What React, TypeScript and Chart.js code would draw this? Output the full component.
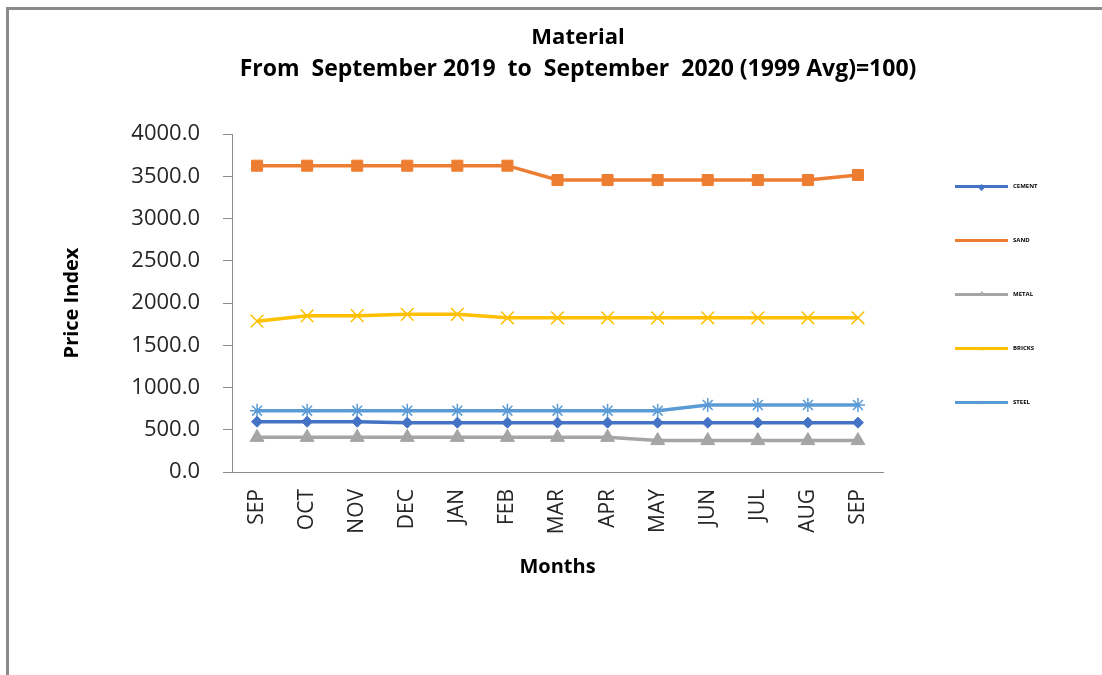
import React, { useEffect, useRef } from "react";
import { Chart, registerables } from "chart.js";

Chart.register(...registerables);

const months = ["SEP", "OCT", "NOV", "DEC", "JAN", "FEB", "MAR", "APR", "MAY", "JUN", "JUL", "AUG", "SEP"];
const cement = [595, 595, 595, 584, 584, 584, 584, 584, 584, 584, 584, 584, 584];
const sand = [3625, 3625, 3625, 3625, 3625, 3625, 3455, 3455, 3455, 3455, 3455, 3455, 3515];
const metal = [410, 410, 410, 410, 410, 410, 410, 410, 372, 372, 372, 372, 372];
const bricks = [1785, 1848, 1850, 1866, 1866, 1825, 1825, 1825, 1825, 1825, 1825, 1825, 1825];
const steel = [726, 726, 726, 726, 726, 726, 726, 726, 726, 793, 793, 793, 793];
const yTicks = [0, 500, 1000, 1500, 2000, 2500, 3000, 3500, 4000];
const seriesNames = ["CEMENT", "SAND", "METAL", "BRICKS", "STEEL"];
const seriesColors = ["#4472C4", "#ED7D31", "#A5A5A5", "#FFC000", "#5B9BD5"];
const titleLines = ["Material", "From  September 2019  to  September  2020 (1999 Avg)=100)"];
const xTitle = "Months";
const yTitle = "Price Index";

const FONT = "'Open Sans', 'DejaVu Sans', sans-serif";

export default function App() {
  const ref = useRef<HTMLCanvasElement>(null);

  useEffect(() => {
    if (!ref.current) return;
    const values = [cement, sand, metal, bricks, steel];
    const styles = [
      { pointStyle: "rectRot", pointRadius: 5.5, pw: 1 },
      { pointStyle: "rect", pointRadius: 7.8, pw: 1 },
      { pointStyle: "triangle", pointRadius: 8, pw: 1 },
      { pointStyle: "crossRot", pointRadius: 9, pw: 1.5 },
      { pointStyle: "star", pointRadius: 7, pw: 1.5 },
    ];
    const chart = new Chart(ref.current, {
      type: "line",
      data: {
        labels: months,
        datasets: seriesNames.map((name, i) => ({
          label: name,
          data: values[i],
          borderColor: seriesColors[i],
          backgroundColor: seriesColors[i],
          borderWidth: 3.5,
          tension: 0,
          pointStyle: styles[i].pointStyle as any,
          pointRadius: styles[i].pointRadius,
          pointBorderWidth: styles[i].pw,
          pointBackgroundColor: seriesColors[i],
          pointBorderColor: seriesColors[i],
        })),
      },
      options: {
        animation: false,
        responsive: false,
        maintainAspectRatio: false,
        layout: { padding: { left: 60, right: 219, top: 134, bottom: 0 } },
        plugins: {
          legend: { display: false },
          title: { display: false },
          tooltip: { enabled: false },
        },
        scales: {
          x: {
            type: "category",
            offset: true,
            grid: { display: false, drawTicks: false },
            border: { display: true, color: "#8c8c8c", width: 1 },
            ticks: {
              minRotation: 90,
              maxRotation: 90,
              autoSkip: false,
              padding: 17,
              color: "#262626",
              font: { family: FONT, size: 21 },
            },
            title: {
              display: true,
              text: xTitle,
              color: "#000",
              font: { family: FONT, size: 20, weight: "bold" },
              padding: { top: 0, bottom: 96 },
            },
            afterFit: (scale: any) => {
              scale.height = 203;
            },
          },
          y: {
            min: 0,
            max: 4000,
            afterBuildTicks: (scale: any) => {
              scale.ticks = yTicks.map((v) => ({ value: v }));
            },
            grid: {
              display: true,
              drawOnChartArea: false,
              drawTicks: true,
              tickLength: 9,
              color: "#8c8c8c",
            },
            border: { display: true, color: "#8c8c8c", width: 1 },
            ticks: {
              padding: 23,
              color: "#262626",
              font: { family: FONT, size: 22 },
              callback: (v: any) => Number(v).toFixed(1),
            },
            title: {
              display: true,
              text: yTitle,
              color: "#000",
              font: { family: FONT, size: 20, weight: "bold" },
              padding: { top: 0, bottom: 0 },
            },
            afterFit: (scale: any) => {
              scale.width = 172;
            },
          },
        },
      },
    });
    return () => chart.destroy();
  }, []);

  const legendMarker = (i: number) => {
    const c = seriesColors[i];
    if (i === 0)
      return <div style={{ position: "absolute", left: 24, top: -1, width: 5, height: 5, background: c, transform: "rotate(45deg)" }} />;
    if (i === 2)
      return <div style={{ position: "absolute", left: 24, top: -3, width: 0, height: 0, borderLeft: "3px solid transparent", borderRight: "3px solid transparent", borderBottom: `5px solid ${c}` }} />;
    if (i === 3 || i === 4)
      return <div style={{ position: "absolute", left: 23, top: -3, width: 7, height: 7, color: c, fontSize: 8, lineHeight: "7px", textAlign: "center", fontFamily: FONT }}>{i === 3 ? "×" : "*"}</div>;
    return null;
  };

  return (
    <div style={{ position: "fixed", left: 0, top: 0, width: 1102, height: 675, background: "#fff", overflow: "hidden" }}>
      <div
        style={{
          position: "absolute",
          left: 6,
          top: 7,
          width: 1102,
          height: 700,
          borderTop: "3px solid #8a8a8a",
          borderLeft: "3px solid #8a8a8a",
        }}
      />
      <canvas ref={ref} width={1102} height={675} style={{ position: "absolute", left: 0, top: 0, width: 1102, height: 675 }} />
      <div
        style={{
          position: "absolute",
          left: 0,
          top: 19,
          width: 1156,
          textAlign: "center",
          fontFamily: FONT,
          fontWeight: "bold",
          lineHeight: "32px",
          color: "#000",
          whiteSpace: "pre",
        }}
      >
        <div style={{ fontSize: 22 }}>{titleLines[0]}</div>
        <div style={{ fontSize: 23 }}>{titleLines[1]}</div>
      </div>
      {seriesNames.map((name, i) => (
        <div key={name} style={{ position: "absolute", left: 955, top: 186 + i * 54 }}>
          <div style={{ position: "absolute", left: 0, top: -1.5, width: 53, height: 3, background: seriesColors[i] }} />
          {legendMarker(i)}
          <div
            style={{
              position: "absolute",
              left: 58,
              top: -4,
              fontFamily: FONT,
              fontSize: 6,
              lineHeight: "8px",
              fontWeight: "bold",
              color: "#000",
              whiteSpace: "nowrap",
            }}
          >
            {name}
          </div>
        </div>
      ))}
    </div>
  );
}
